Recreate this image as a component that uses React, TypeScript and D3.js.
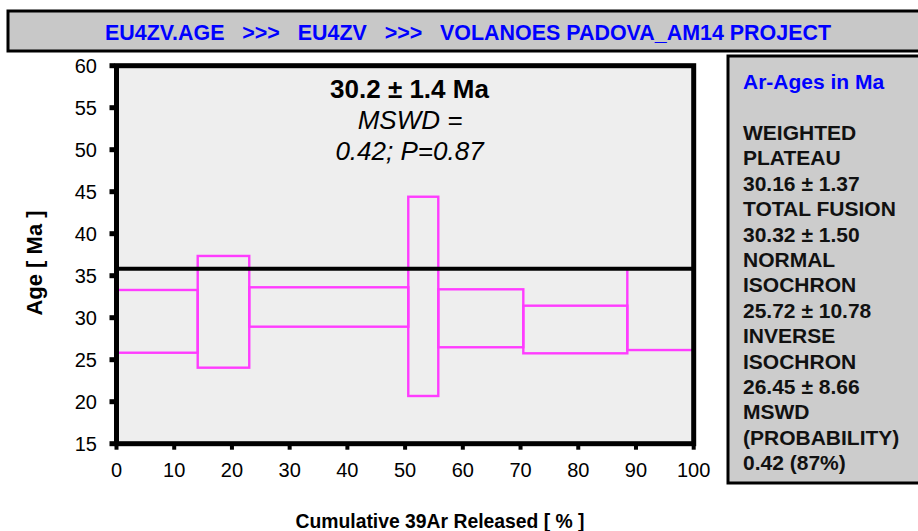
import React from "react";
import * as d3 from "d3";

const stepStart = [0, 14.07, 23.0, 50.55, 55.75, 70.48, 88.5];
const stepEnd = [14.07, 23.0, 50.55, 55.75, 70.48, 88.5, 100];
const ageLow = [25.83, 24.05, 28.93, 20.68, 26.48, 25.76, 26.15];
const ageHigh = [33.3, 37.35, 33.62, 44.4, 33.38, 31.43, 35.85];
const plateauAge = 35.83;
const xTicks = [0, 10, 20, 30, 40, 50, 60, 70, 80, 90, 100];
const yTicks = [15, 20, 25, 30, 35, 40, 45, 50, 55, 60];
const titleText = "EU4ZV.AGE   >>>   EU4ZV   >>>   VOLANOES PADOVA_AM14 PROJECT";
const annotLines = ["30.2 ± 1.4 Ma", "MSWD =", "0.42; P=0.87"];
const panelTitle = "Ar-Ages in Ma";
const panelLines = [
  "WEIGHTED",
  "PLATEAU",
  "30.16 ± 1.37",
  "TOTAL FUSION",
  "30.32 ± 1.50",
  "NORMAL",
  "ISOCHRON",
  "25.72 ± 10.78",
  "INVERSE",
  "ISOCHRON",
  "26.45 ± 8.66",
  "MSWD",
  "(PROBABILITY)",
  "0.42 (87%)",
];

const W = 918;
const H = 531;
const FONT = "'Liberation Sans', Arial, sans-serif";
const MAGENTA = "#FF3CFF";

export default function App() {
  const x = d3.scaleLinear().domain([0, 100]).range([116.5, 693.7]);
  const y = d3.scaleLinear().domain([15, 60]).range([443.7, 65.7]);
  const [x0, x1] = x.range();
  const [yb, yt] = y.range();

  return (
    <svg
      width={W}
      height={H}
      style={{ position: "absolute", left: 0, top: 0 }}
      xmlns="http://www.w3.org/2000/svg"
    >
      <rect x={0} y={0} width={W} height={H} fill="#ffffff" />
      {/* title banner */}
      <rect x={8} y={11} width={W + 10} height={40} fill="#C8C8C8" stroke="#000" strokeWidth={3} />
      <text
        x={468}
        y={39.5}
        textAnchor="middle"
        fontFamily={FONT}
        fontWeight="bold"
        fontSize={22}
        fill="#0000FF"
        textLength={726}
        lengthAdjust="spacingAndGlyphs"
        style={{ whiteSpace: "pre" }}
      >
        {titleText}
      </text>

      {/* plot background */}
      <rect x={x0} y={yt} width={x1 - x0} height={yb - yt} fill="#EEEEEE" />

      {/* steps */}
      {stepStart.map((s, i) => (
        <rect
          key={i}
          x={x(s)}
          y={y(ageHigh[i])}
          width={x(stepEnd[i]) - x(s)}
          height={y(ageLow[i]) - y(ageHigh[i])}
          fill="none"
          stroke={MAGENTA}
          strokeWidth={2.4}
        />
      ))}

      {/* plateau line */}
      <line x1={x0} x2={x1} y1={y(plateauAge)} y2={y(plateauAge)} stroke="#000" strokeWidth={4} />

      {/* border */}
      <rect x={x0} y={yt} width={x1 - x0} height={yb - yt} fill="none" stroke="#000" strokeWidth={5} />

      {/* y ticks */}
      {yTicks.map((t) => (
        <g key={"y" + t}>
          <rect x={x0 - 7} y={y(t) - 2.5} width={5} height={5} fill="#000" />
          <text
            x={97}
            y={y(t) + 7}
            textAnchor="end"
            fontFamily={FONT}
            fontSize={20}
            fill="#000"
          >
            {t}
          </text>
        </g>
      ))}

      {/* x ticks */}
      {xTicks.map((t) => (
        <g key={"x" + t}>
          <rect x={x(t) - 2} y={yb + 2} width={4} height={4} fill="#000" />
          <text
            x={x(t)}
            y={477}
            textAnchor="middle"
            fontFamily={FONT}
            fontSize={20}
            fill="#000"
          >
            {t}
          </text>
        </g>
      ))}

      {/* axis titles */}
      <text
        transform={`translate(42,${263}) rotate(-90)`}
        textAnchor="middle"
        fontFamily={FONT}
        fontWeight="bold"
        fontSize={22}
        fill="#000"
      >
        Age [ Ma ]
      </text>
      <text
        x={440}
        y={528}
        textAnchor="middle"
        fontFamily={FONT}
        fontWeight="bold"
        fontSize={21}
        fill="#000"
        textLength={289}
        lengthAdjust="spacingAndGlyphs"
      >
        Cumulative 39Ar Released [ % ]
      </text>

      {/* annotation */}
      <text x={409.5} y={98} textAnchor="middle" fontFamily={FONT} fontWeight="bold" fontSize={26} fill="#000">
        {annotLines[0]}
      </text>
      <text x={410} y={129} textAnchor="middle" fontFamily={FONT} fontStyle="italic" fontSize={26} fill="#000">
        {annotLines[1]}
      </text>
      <text x={409.5} y={160} textAnchor="middle" fontFamily={FONT} fontStyle="italic" fontSize={26} fill="#000">
        {annotLines[2]}
      </text>

      {/* right panel */}
      <rect x={728} y={56} width={W} height={427} fill="#CCCCCC" stroke="#000" strokeWidth={3} />
      <text x={743} y={88.5} fontFamily={FONT} fontWeight="bold" fontSize={21} fill="#0000FF">
        {panelTitle}
      </text>
      {panelLines.map((l, i) => (
        <text
          key={"p" + i}
          x={743}
          y={140 + i * 25.4}
          fontFamily={FONT}
          fontWeight="bold"
          fontSize={21}
          fill="#111"
        >
          {l}
        </text>
      ))}
    </svg>
  );
}
